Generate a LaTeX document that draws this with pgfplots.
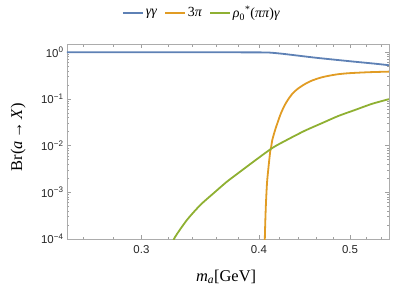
\documentclass[border=0pt]{standalone}
\usepackage{pgfplots}
\pgfplotsset{compat=1.18}
\usepackage{fontspec}
\setmainfont{Liberation Serif}
\setsansfont{Liberation Sans}
\definecolor{mblue}{rgb}{0.368,0.507,0.710}
\definecolor{morange}{rgb}{0.881,0.611,0.142}
\definecolor{mgreen}{rgb}{0.560,0.692,0.195}
\begin{document}
\begin{tikzpicture}
\begin{axis}[name=ax, scale only axis, width=322bp, height=195bp,
  xmode=log, ymode=log, xmin=0.25, xmax=0.55, ymin=1e-4, ymax=1.5,
  xtick={0.3,0.4,0.5}, xticklabels={0.3,0.4,0.5},
  minor xtick={0.26,0.28,0.32,0.34,0.36,0.38,0.42,0.44,0.46,0.48,0.52,0.54},
  ytick={1e-4,1e-3,1e-2,1e-1,1},
  yticklabels={10\textsuperscript{−4},10\textsuperscript{−3},10\textsuperscript{−2},10\textsuperscript{−1},10\textsuperscript{0}},
  minor ytick={2e-4,3e-4,4e-4,5e-4,6e-4,7e-4,8e-4,9e-4,2e-3,3e-3,4e-3,5e-3,6e-3,7e-3,8e-3,9e-3,2e-2,3e-2,4e-2,5e-2,6e-2,7e-2,8e-2,9e-2,0.2,0.3,0.4,0.5,0.6,0.7,0.8,0.9},
  tick align=inside, major tick length=4bp, minor tick length=2.5bp,
  every tick/.style={gray!75, line width=0.5bp},
  axis line style={gray!65, line width=0.6bp},
  tick label style={font=\sffamily\fontsize{11.5}{13}\selectfont, text=black!85},
  xticklabel style={yshift=-3bp},
  /pgf/number format/assume math mode=true,
  every axis x label/.style={at={(axis description cs:0.494,-0.195)}, anchor=center, font=\fontsize{16.5}{18}\selectfont},
  every axis y label/.style={at={(axis description cs:-0.152,0.523)}, anchor=center, rotate=90, font=\fontsize{16.5}{18}\selectfont},
  xlabel={\textit{m}\textsubscript{\textit{a}}[GeV]},
  ylabel={Br(\textit{a}\,→\,\textit{X})},
  legend style={at={(axis description cs:0.419,1.16)}, anchor=center, draw=none, fill=none,
    legend columns=-1, font=\fontsize{14}{16}\selectfont,
    /tikz/every even column/.append style={column sep=5bp}},
  legend image code/.code={\draw[#1] (0bp,0bp) -- (20bp,0bp);},
  every axis plot/.append style={line width=1.8bp},
]
\addplot[mblue, smooth, tension=0.4] coordinates {
(0.25,0.995) (0.30,0.995) (0.35,0.995) (0.38,0.994) (0.40,0.992) (0.405,0.99)
(0.41,0.984) (0.4163,0.96) (0.425,0.92) (0.4371,0.86) (0.459,0.765)
(0.4821,0.69) (0.5062,0.625) (0.5315,0.568) (0.55,0.527)};
\addlegendentry{\textit{γγ}}
\addplot[morange, smooth, tension=0.4] coordinates {
(0.4050,1e-6) (0.4054,1e-5) (0.4058,1e-4) (0.4068,5e-4) (0.4080,1.6e-3) (0.4095,3.5e-3)
(0.4112,7.5e-3) (0.4122,9.5e-3) (0.4133,0.0132) (0.4163,0.022) (0.4214,0.045)
(0.4255,0.070) (0.4300,0.1000) (0.4350,0.135) (0.4407,0.1695) (0.448,0.210) (0.4553,0.2465)
(0.465,0.285) (0.4742,0.312) (0.485,0.337) (0.4980,0.355)
(0.5229,0.3731) (0.55,0.3843)};
\addlegendentry{3\textit{π}}
\addplot[mgreen, smooth, tension=0.4] coordinates {
(0.320,4.5e-5) (0.3252,1.04e-4) (0.3354,2.56e-4) (0.3466,5.37e-4) (0.3580,9.57e-4)
(0.3699,1.69e-3) (0.3821,2.77e-3) (0.3948,4.54e-3) (0.4137,9.0e-3) (0.4309,0.0141)
(0.4479,0.0210) (0.4666,0.0302) (0.4859,0.0432) (0.5062,0.0581) (0.5273,0.0782)
(0.55,0.0990)};
\addlegendentry{\textit{ρ}\textsubscript{0}\textsuperscript{*}(\textit{ππ})\textit{γ}}
\end{axis}
\pgfresetboundingbox
\path ([xshift=-67bp,yshift=-55bp]ax.south west) rectangle ([xshift=18bp,yshift=44bp]ax.north east);
\end{tikzpicture}
\end{document}
